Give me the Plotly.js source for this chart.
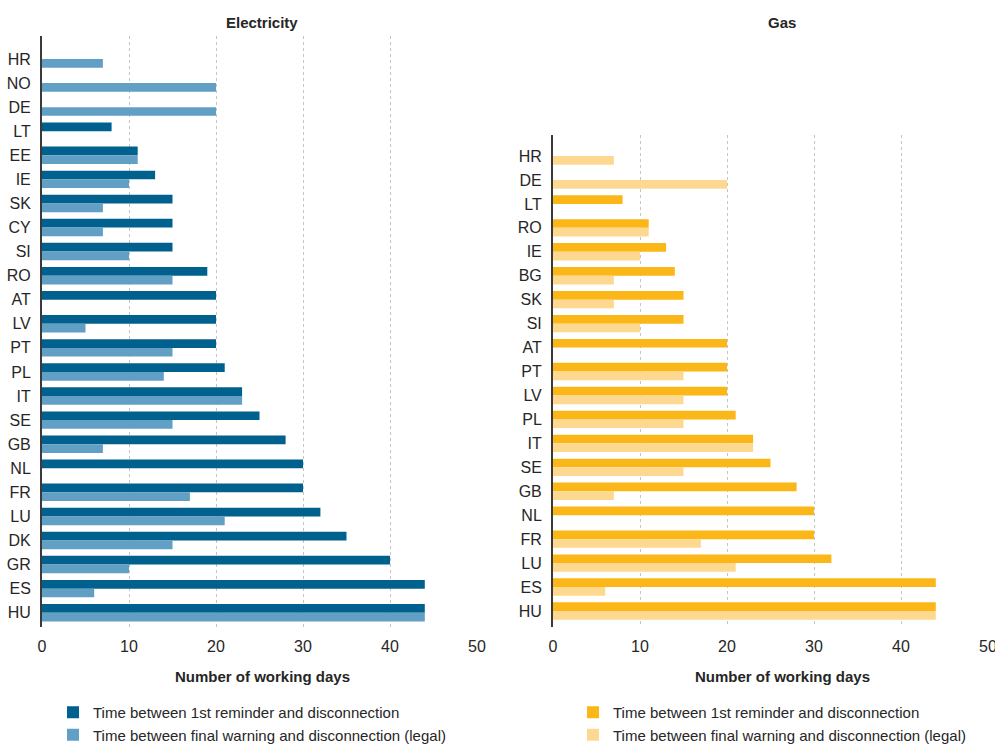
<!DOCTYPE html>
<html>
<head>
<meta charset="utf-8">
<script src="https://cdn.plot.ly/plotly-3.0.1.min.js"></script>
<style>html,body{margin:0;padding:0;background:#fff;}#chart{width:995px;height:745px;}</style>
</head>
<body>
<div id="chart"></div>
<script>
// Electricity
const elecCountries = ['HR','NO','DE','LT','EE','IE','SK','CY','SI','RO','AT','LV','PT','PL','IT','SE','GB','NL','FR','LU','DK','GR','ES','HU'];
const elecReminder  = [null,null,null,8,11,13,15,15,15,19,20,20,20,21,23,25,28,30,30,32,35,40,44,44];
const elecLegal     = [7,20,20,null,11,10,7,7,10,15,null,5,15,14,23,15,7,null,17,21,15,10,6,44];
// Gas
const gasCountries = ['HR','DE','LT','RO','IE','BG','SK','SI','AT','PT','LV','PL','IT','SE','GB','NL','FR','LU','ES','HU'];
const gasReminder  = [null,null,8,11,13,14,15,15,20,20,20,21,23,25,28,30,30,32,44,44];
const gasLegal     = [7,20,null,11,10,7,7,10,null,15,15,15,23,15,7,null,17,21,6,44];

const seriesNames = ['Time between 1st reminder and disconnection','Time between final warning and disconnection (legal)'];
const xTicks = [0,10,20,30,40,50];

const FONT = "'Liberation Sans',Arial,sans-serif";
const TXT = '#262626';
const W = 995, H = 745;
const px = v => v / W;
const py = v => 1 - v / H;

const traces = [
  {type:'bar', orientation:'h', name:seriesNames[0], y:elecCountries, x:elecReminder, marker:{color:'#00618f'}, xaxis:'x', yaxis:'y', legend:'legend'},
  {type:'bar', orientation:'h', name:seriesNames[1], y:elecCountries, x:elecLegal, marker:{color:'#61a0c4'}, xaxis:'x', yaxis:'y', legend:'legend'},
  {type:'bar', orientation:'h', name:seriesNames[0], y:gasCountries, x:gasReminder, marker:{color:'#fbb617'}, xaxis:'x2', yaxis:'y2', legend:'legend2'},
  {type:'bar', orientation:'h', name:seriesNames[1], y:gasCountries, x:gasLegal, marker:{color:'#fdd891'}, xaxis:'x2', yaxis:'y2', legend:'legend2'}
];

const xCommon = {
  range:[0,50], tickvals:xTicks, ticktext:xTicks.map(String), showgrid:true, gridcolor:'#c4c4c4', griddash:'dot', gridwidth:1,
  zeroline:false, showline:false, ticks:'', ticklabelstandoff:8, ticklabeloverflow:'allow',
  tickfont:{family:FONT,size:16,color:TXT}, automargin:false, fixedrange:true
};
const yCommon = {
  type:'category', showgrid:false, zeroline:false, showline:true, linecolor:'#3a3a3a', linewidth:2, ticks:'',
  ticklabelstandoff:6, tickfont:{family:FONT,size:16,color:TXT}, automargin:false, fixedrange:true
};

const layout = {
  width:W, height:H, margin:{l:0,r:0,t:0,b:0,autoexpand:false}, paper_bgcolor:'#fff', plot_bgcolor:'rgba(0,0,0,0)',
  barmode:'group', bargap:0.275, bargroupgap:0,
  font:{family:FONT,color:TXT},
  xaxis:Object.assign({}, xCommon, {domain:[px(42), px(477)], anchor:'y'}),
  xaxis2:Object.assign({}, xCommon, {domain:[px(553), px(988)], anchor:'y2'}),
  yaxis:Object.assign({}, yCommon, {domain:[py(627), py(36)], anchor:'x', categoryorder:'array', categoryarray:elecCountries, range:[elecCountries.length-1+0.594, -0.955]}),
  yaxis2:Object.assign({}, yCommon, {domain:[py(627), py(135)], anchor:'x2', categoryorder:'array', categoryarray:gasCountries, range:[gasCountries.length-1+0.668, -0.877]}),
  legend:{x:px(53), y:py(696), xanchor:'left', yanchor:'top', orientation:'v', font:{family:FONT,size:15,color:TXT}, bgcolor:'rgba(0,0,0,0)', traceorder:'normal', tracegroupgap:0},
  legend2:{x:px(573), y:py(696), xanchor:'left', yanchor:'top', orientation:'v', font:{family:FONT,size:15,color:TXT}, bgcolor:'rgba(0,0,0,0)', traceorder:'normal', tracegroupgap:0},
  annotations:[
    {text:'<b>Electricity</b>', xref:'paper', yref:'paper', x:px(262), y:py(22), xanchor:'center', yanchor:'middle', showarrow:false, font:{family:FONT,size:15,color:TXT}},
    {text:'<b>Gas</b>', xref:'paper', yref:'paper', x:px(782), y:py(22), xanchor:'center', yanchor:'middle', showarrow:false, font:{family:FONT,size:15,color:TXT}},
    {text:'<b>Number of working days</b>', xref:'paper', yref:'paper', x:px(262), y:py(676), xanchor:'center', yanchor:'middle', showarrow:false, font:{family:FONT,size:15,color:TXT}},
    {text:'<b>Number of working days</b>', xref:'paper', yref:'paper', x:px(782), y:py(676), xanchor:'center', yanchor:'middle', showarrow:false, font:{family:FONT,size:15,color:TXT}}
  ]
};

Plotly.newPlot('chart', traces, layout, {displayModeBar:false, staticPlot:true});
</script>
</body>
</html>
